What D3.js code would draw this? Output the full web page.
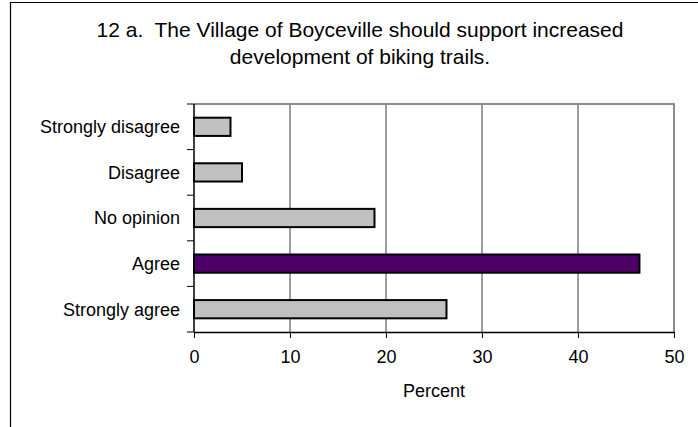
<!DOCTYPE html>
<html>
<head>
<meta charset="utf-8">
<script src="https://cdn.jsdelivr.net/npm/d3@7"></script>
<style>
  html, body { margin: 0; padding: 0; background: #fff; }
  svg { display: block; font-family: Arial, "Liberation Sans", sans-serif; }
  .title { white-space: pre; }
</style>
</head>
<body>
<svg id="chart" width="698" height="427"></svg>
<script>
// Survey responses, question 12 a.
const titleLines = [
  "12 a.  The Village of Boyceville should support increased",
  "development of biking trails."
];
const categories = ["Strongly disagree", "Disagree", "No opinion", "Agree", "Strongly agree"];
const percents = [3.8, 5.0, 18.8, 46.4, 26.3];
const highlighted = ["Agree"];
const xTicks = [0, 10, 20, 30, 40, 50];
const xLabel = "Percent";

const svg = d3.select("#chart");
const plot = { left: 194, top: 104, right: 674, bottom: 332 };
const labelSize = 18;

// Outer chart frame (continues past the right and bottom edges)
svg.append("path")
  .attr("d", "M10.5,440 V2.5 H710")
  .attr("fill", "none").attr("stroke", "#000").attr("stroke-width", 1.2);

// Title
svg.append("text")
  .attr("class", "title")
  .attr("text-anchor", "middle")
  .attr("font-size", 21)
  .attr("fill", "#000")
  .selectAll("tspan").data(titleLines).join("tspan")
  .attr("x", 360)
  .attr("y", (d, i) => 37 + i * 27)
  .text(d => d);

const x = d3.scaleLinear().domain([0, 50]).range([plot.left, plot.right]);
const y = d3.scaleBand().domain(categories).range([plot.top, plot.bottom]).paddingInner(0.6).paddingOuter(0.3);
const yBand = d3.scaleBand().domain(categories).range([plot.top, plot.bottom]);

// Vertical gridlines
svg.append("g").selectAll("line").data(xTicks.filter(t => t > 0 && t < 50)).join("line")
  .attr("x1", d => x(d)).attr("x2", d => x(d))
  .attr("y1", plot.top).attr("y2", plot.bottom)
  .attr("stroke", "#3a3a3a").attr("stroke-width", 1);

// Plot-area border on top and right
svg.append("path")
  .attr("d", `M${plot.left},${plot.top} H${plot.right} V${plot.bottom}`)
  .attr("fill", "none").attr("stroke", "#8c8c8c").attr("stroke-width", 2);

// Bars
svg.append("g").selectAll("rect").data(categories.map((c, i) => ({ c, v: percents[i] }))).join("rect")
  .attr("x", x(0))
  .attr("y", d => y(d.c))
  .attr("width", d => x(d.v) - x(0))
  .attr("height", y.bandwidth())
  .attr("fill", d => highlighted.includes(d.c) ? "#4f0068" : "#c0c0c0")
  .attr("stroke", "#000").attr("stroke-width", 2);

// Y axis with ticks at category boundaries
const yAxis = svg.append("g");
yAxis.append("line")
  .attr("x1", plot.left).attr("x2", plot.left)
  .attr("y1", plot.top).attr("y2", plot.bottom)
  .attr("stroke", "#000").attr("stroke-width", 1.5);
const boundaries = categories.map(c => yBand(c)).concat([plot.bottom]);
yAxis.selectAll("line.tick").data(boundaries).join("line").attr("class", "tick")
  .attr("x1", plot.left - 7).attr("x2", plot.left)
  .attr("y1", d => d).attr("y2", d => d)
  .attr("stroke", "#000").attr("stroke-width", 1);
yAxis.selectAll("text").data(categories).join("text")
  .attr("x", plot.left - 14)
  .attr("y", d => yBand(d) + yBand.bandwidth() / 2)
  .attr("dy", "0.35em")
  .attr("text-anchor", "end")
  .attr("font-size", labelSize)
  .text(d => d);

// X axis
const xAxis = svg.append("g").attr("transform", `translate(0,${plot.bottom})`)
  .call(d3.axisBottom(x).tickValues(xTicks).tickSize(6).tickPadding(12).tickSizeOuter(0));
xAxis.select(".domain").attr("stroke", "#000").attr("stroke-width", 1.5);
xAxis.selectAll(".tick line").attr("stroke", "#000");
xAxis.selectAll(".tick text")
  .attr("font-size", labelSize)
  .attr("font-family", "Arial, 'Liberation Sans', sans-serif")
  .attr("fill", "#000");

svg.append("text")
  .attr("x", 434).attr("y", 397)
  .attr("text-anchor", "middle")
  .attr("font-size", labelSize)
  .text(xLabel);
</script>
</body>
</html>
